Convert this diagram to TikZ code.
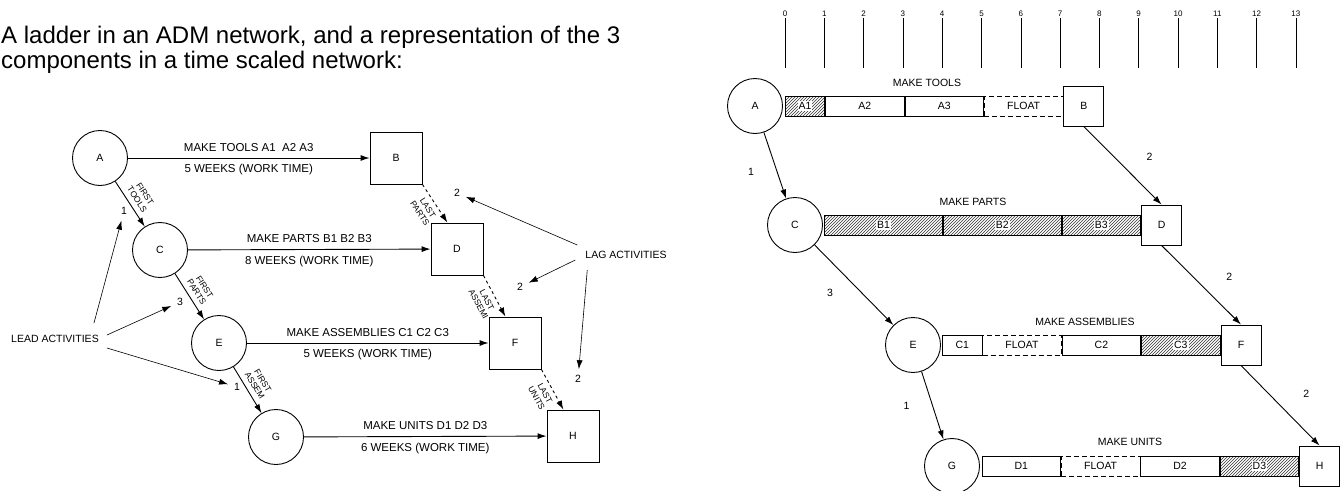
\documentclass[tikz,border=0pt]{standalone}
\usepackage{fontspec}
\setmainfont{Liberation Sans}
\usetikzlibrary{positioning, arrows.meta, patterns}

\newcommand{\wkn}{39.3}
\newcommand{\lblf}{\fontsize{10.5}{12}\selectfont}
\newcommand{\albf}{\fontsize{11.5}{13}\selectfont}
\newcommand{\smlf}{\fontsize{8.5}{9.5}\selectfont}
\newcommand{\segtxt}[1]{{\setlength{\fboxsep}{1pt}\colorbox{white}{#1}}}

\tikzset{
  evt/.style   = {draw, circle, minimum size=55pt, inner sep=0pt, font=\lblf,
                  line width=0.9pt},
  sqr/.style   = {draw, rectangle, minimum size=52pt, inner sep=0pt, font=\lblf,
                  line width=0.9pt},
  sqs/.style   = {draw, rectangle, minimum size=40pt, inner sep=0pt, font=\lblf,
                  line width=0.9pt, fill=white},
  seg/.style   = {draw, rectangle, minimum height=20pt, inner sep=0pt, font=\lblf,
                  anchor=west, line width=0.8pt},
  wks/.style   = {minimum width=#1*\wkn*1pt},
  hatch/.style = {pattern=north east lines, pattern color=black!80},
  flt/.style   = {dash pattern=on 5pt off 3pt},
  ar/.style    = {-{Latex[length=9pt,width=6pt]}, line width=0.9pt},
  thn/.style   = {-{Latex[length=9pt,width=6pt]}, line width=0.6pt, shorten >=4pt},
  lbl/.style   = {font=\lblf, inner sep=2pt},
  alb/.style   = {font=\albf, inner sep=2pt},
  tny/.style   = {font=\smlf, align=center, inner sep=1pt},
  tck/.style   = {font=\fontsize{8}{9}\selectfont, inner sep=1pt},
  ttl/.style   = {font=\fontsize{24}{28}\selectfont, inner sep=0pt, anchor=base west},
}

\begin{document}
\begin{tikzpicture}[x=1pt, y=-1pt]
  \useasboundingbox (0,0) rectangle (1340,490);

  \node[ttl] (ttl1) at (1,43) {A ladder in an ADM network, and a representation of the 3};
  \node[ttl] (ttl2) at (1,68) {components in a time scaled network:};

  % ladder in an ADM network
  \node[evt] (lA) at (100,158) {A};
  \node[evt] (lC) at (160,250) {C};
  \node[evt] (lE) at (219,343) {E};
  \node[evt] (lG) at (276,437) {G};
  \node[sqr] (lB) at (396,158) {B};
  \node[sqr] (lD) at (457,249) {D};
  \node[sqr] (lF) at (515,343) {F};
  \node[sqr] (lH) at (573,436) {H};

  \draw[ar] (lA) -- (lB)
    node[midway, above=4pt, alb] {MAKE TOOLS A1\ \ A2 A3}
    node[midway, below=4pt, alb] {5 WEEKS (WORK TIME)};
  \draw[ar] (lC) -- (lD)
    node[midway, above=4pt, alb] {MAKE PARTS B1 B2 B3}
    node[midway, below=4pt, alb] {8 WEEKS (WORK TIME)};
  \draw[ar] (lE) -- (lF)
    node[midway, above=4pt, alb] {MAKE ASSEMBLIES C1 C2 C3}
    node[midway, below=4pt, alb] {5 WEEKS (WORK TIME)};
  \draw[ar] (lG) -- (lH)
    node[midway, above=4pt, alb] {MAKE UNITS D1 D2 D3}
    node[midway, below=4pt, alb] {6 WEEKS (WORK TIME)};

  \draw[ar] (lA) -- (lC) node[midway, sloped, above=4pt, tny] {FIRST\\TOOLS};
  \draw[ar] (lC) -- (lE) node[midway, sloped, above=4pt, tny] {FIRST\\PARTS};
  \draw[ar] (lE) -- (lG) node[midway, sloped, above=4pt, tny] {FIRST\\ASSEM};
  \draw[ar, dashed] (lB.south east) -- (lD.110)
    node[midway, sloped, below=4pt, tny] {LAST\\PARTS};
  \draw[ar, dashed] (lD.south east) -- (lF.110)
    node[midway, sloped, below=4pt, tny] {LAST\\ASSEMI};
  \draw[ar, dashed] (lF.south east) -- (lH.110)
    node[midway, sloped, below=4pt, tny] {LAST\\UNITS};

  \node[lbl] (n1) at (124,211) {1};
  \node[lbl] (n3) at (180,302) {3};
  \node[lbl] (n4) at (237,387) {1};
  \node[lbl] (g1) at (457,193) {2};
  \node[lbl] (g2) at (520,287) {2};
  \node[lbl] (g3) at (578,379) {2};

  \node[lbl] (lead) at (55,339) {LEAD ACTIVITIES};
  \node[lbl] (lag)  at (626,255) {LAG ACTIVITIES};
  \draw[thn] ([xshift=-7pt, yshift=10pt]lead.north east) -- (n1);
  \draw[thn] ([xshift=6pt, yshift=4pt]lead.east) -- (n3);
  \draw[thn] ([xshift=6pt, yshift=-9pt]lead.east) -- (n4);
  \draw[thn] ([xshift=-6pt, yshift=10pt]lag.west) -- (g1);
  \draw[thn] ([xshift=-8pt, yshift=-5pt]lag.west) -- (g2);
  \draw[thn] ([xshift=4pt, yshift=-15pt]lag.west) -- (g3);

  % time scaled network
  \foreach \t in {0,...,13}
    \node[tck] (k\t) at ({785+\wkn*\t},14) {\t};
  \foreach \t in {0,...,13}
    \draw[line width=0.6pt] (k\t.south) -- ++(0,50);

  \node[evt] (sA) at (755,106) {A};
  \node[seg, hatch, wks=1] (a1) at (785,106) {\segtxt{A1}};
  \node[seg, wks=2, right=0pt of a1] (a2) {A2};
  \node[seg, wks=2, right=0pt of a2] (a3) {A3};
  \node[seg, flt, wks=2, right=0pt of a3] (af) {FLOAT};
  \node[sqs, right=0pt of af] (sB) {B};
  \node[lbl] (mt) at (927,83) {MAKE TOOLS};

  \node[evt] (sC) at (795,225) {C};
  \node[seg, hatch, wks=3] (b1) at ({785+\wkn},225) {\segtxt{B1}};
  \node[seg, hatch, wks=3, right=0pt of b1] (b2) {\segtxt{B2}};
  \node[seg, hatch, wks=2, right=0pt of b2] (b3) {\segtxt{B3}};
  \node[sqs, right=0pt of b3] (sD) {D};
  \node[lbl] (mp) at (973,202) {MAKE PARTS};

  \node[evt] (sE) at (913,345) {E};
  \node[seg, wks=1] (c1) at ({785+4*\wkn},345) {C1};
  \node[seg, flt, wks=2, right=0pt of c1] (cf) {FLOAT};
  \node[seg, wks=2, right=0pt of cf] (c2) {C2};
  \node[seg, hatch, wks=2, right=0pt of c2] (c3) {\segtxt{C3}};
  \node[sqs, right=0pt of c3] (sF) {F};
  \node[lbl] (ma) at (1085,322) {MAKE ASSEMBLIES};

  \node[evt] (sG) at (952,466) {G};
  \node[seg, wks=2] (d1) at ({785+5*\wkn},466) {D1};
  \node[seg, flt, wks=2, right=0pt of d1] (df) {FLOAT};
  \node[seg, wks=2, right=0pt of df] (d2) {D2};
  \node[seg, hatch, wks=2, right=0pt of d2] (d3) {\segtxt{D3}};
  \node[sqs, right=0pt of d3] (sH) {H};
  \node[lbl] (mu) at (1130,442) {MAKE UNITS};

  \draw[ar] (sA) -- (sC) node[midway, lbl, xshift=-24pt, yshift=-6pt] {1};
  \draw[ar] (sB.south) -- (sD.north) node[midway, lbl, xshift=27pt, yshift=9pt] {2};
  \draw[ar] (sC) -- (sE) node[midway, lbl, xshift=-24pt, yshift=-8pt] {3};
  \draw[ar] (sD.south) -- (sF.north) node[midway, lbl, xshift=28pt, yshift=8pt] {2};
  \draw[ar] (sE) -- (sG) node[midway, lbl, xshift=-26pt] {1};
  \draw[ar] (sF.south) -- (sH.north) node[midway, lbl, xshift=26pt, yshift=12pt] {2};
\end{tikzpicture}
\end{document}
